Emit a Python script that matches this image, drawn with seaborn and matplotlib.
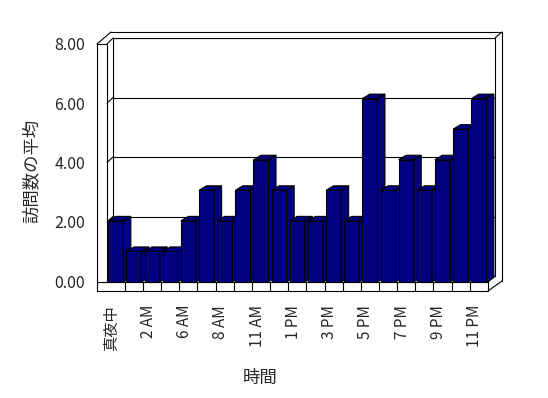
import numpy as np
import pandas as pd
import matplotlib
matplotlib.use("Agg")
import matplotlib.pyplot as plt
import seaborn as sns
from matplotlib.lines import Line2D
from matplotlib.patches import Polygon
from matplotlib.transforms import ScaledTranslation, IdentityTransform

# ---- data ----
hours = ["真夜中", "1 AM", "2 AM", "5 AM", "6 AM", "7 AM", "8 AM", "10 AM", "11 AM",
         "正午", "1 PM", "2 PM", "3 PM", "4 PM", "5 PM", "6 PM", "7 PM", "8 PM",
         "9 PM", "10 PM", "11 PM"]
visits = [2, 1, 1, 1, 2, 3, 2, 3, 4, 3, 2, 2, 3, 2, 6, 3, 4, 3, 4, 5, 6]
y_ticks = [0, 2, 4, 6, 8]
x_title = "時間"
y_title = "訪問数の平均"

sns.set_style("white")
plt.rcParams["font.family"] = ["Noto Sans CJK JP", "DejaVu Sans"]

NAVY = "#000080"
LW = 0.8
W, H = 548, 398
fig = plt.figure(figsize=(W / 100, H / 100), dpi=100)


def box(x0, y0, x1, y1):
    return [x0 / W, 1 - y1 / H, (x1 - x0) / W, (y1 - y0) / H]


def pline(xs, ys, **kw):
    fig.add_artist(Line2D([x / W for x in xs], [1 - y / H for y in ys],
                          transform=fig.transFigure, color="black", lw=LW, **kw))


# ---- back wall with gridlines ----
ax_wall = fig.add_axes(box(113, 38, 495, 276))
ax_wall.set_zorder(0)
ax_wall.set_ylim(0, 8)
ax_wall.set_xlim(0, 1)
ax_wall.set_yticks(y_ticks)
ax_wall.set_xticks([])
ax_wall.tick_params(left=False, labelleft=False)
ax_wall.grid(axis="y", color="black", lw=LW)
for s in ["left", "top", "right"]:
    ax_wall.spines[s].set_visible(True)
    ax_wall.spines[s].set_color("black")
    ax_wall.spines[s].set_linewidth(LW)
ax_wall.spines["bottom"].set_visible(False)

# ---- front plane (value axis labels) ----
ax_front = fig.add_axes(box(97, 44, 488, 281))
ax_front.set_zorder(1)
ax_front.patch.set_alpha(0)
ax_front.set_ylim(0, 8)
ax_front.set_yticks(y_ticks)
ax_front.set_yticklabels([f"{v:.2f}" for v in y_ticks])
ax_front.set_xticks([])
for s in ax_front.spines.values():
    s.set_visible(False)
ax_front.tick_params(axis="y", direction="in", length=7.2, width=LW, color="black",
                     pad=8.5, labelsize=11.5)

# ---- bars ----
cat_w = 18.15     # pixels per category
c0 = 115.8        # pixel centre of first category
bx0, bx1 = 106, 488
ax_bars = fig.add_axes(box(bx0, 37.5, bx1, 282))
ax_bars.set_zorder(2)
ax_bars.patch.set_alpha(0)
df = pd.DataFrame({x_title: hours, y_title: visits})
sns.barplot(data=df, x=x_title, y=y_title, order=hours, color=NAVY, saturation=1,
            width=0.83, edgecolor="black", linewidth=LW, errorbar=None, ax=ax_bars)
ax_bars.set_xlim((bx0 - c0) / cat_w, (bx1 - c0) / cat_w)
ax_bars.set_ylim(0, 8)
ax_bars.set_xlabel("")
ax_bars.set_ylabel("")
ax_bars.set_yticks([])

dx = 7.5 / cat_w
dy = 4.5 * 8 / (282 - 37.5)
for i, p in enumerate(ax_bars.patches):
    x0, w, h = p.get_x(), p.get_width(), p.get_height()
    x1 = x0 + w
    p.set_zorder(3 + 2 * i)
    p.set_clip_on(False)
    top = Polygon([(x0, h), (x1, h), (x1 + dx, h + dy), (x0 + dx, h + dy)],
                  closed=True, fc=NAVY, ec="black", lw=LW, zorder=4 + 2 * i, clip_on=False)
    side = Polygon([(x1, 0), (x1, h), (x1 + dx, h + dy), (x1 + dx, dy)],
                   closed=True, fc=NAVY, ec="black", lw=LW, zorder=4 + 2 * i, clip_on=False)
    ax_bars.add_patch(top)
    ax_bars.add_patch(side)

for s in ["left", "top", "right"]:
    ax_bars.spines[s].set_visible(False)
ax_bars.spines["bottom"].set_color("black")
ax_bars.spines["bottom"].set_linewidth(LW)

ax_bars.set_xticks(range(0, len(hours), 2))
ax_bars.set_xticklabels(hours[::2], rotation=90, fontsize=11)
ax_bars.set_xticks(np.arange(0.5, len(hours) - 1, 1), minor=True)
ax_bars.tick_params(axis="x", which="major", length=0, pad=16.5)
ax_bars.tick_params(axis="x", which="minor", bottom=True, direction="out",
                    length=6.5, width=LW, color="black")
shift = ScaledTranslation(-4 / 100, 0, fig.dpi_scale_trans)
for lab in ax_bars.get_xticklabels():
    lab.set_transform(lab.get_transform() + shift)

# ---- 3D box decorations (pixel layout) ----
pline([97, 97], [44, 291])
pline([107, 107], [44, 282])
pline([97, 107], [44, 44])
pline([97, 111], [44, 32])
pline([107, 113], [44, 38])
pline([111, 502], [32, 32])
pline([502, 495], [32, 38])
pline([502, 502], [32, 281])
pline([495, 488], [276, 282])
pline([502, 488], [281, 291])
pline([97, 488], [291, 291])
pline([97, 107], [282, 282])
pline([488, 488], [282, 291])

# connectors on the left wall from front ticks to back gridlines
for v in y_ticks[1:-1]:
    fx, fy = ax_front.transData.transform((0, v))
    bxp, byp = ax_wall.transData.transform((0, v))
    fig.add_artist(Line2D([fx + 10, bxp], [fy, byp], transform=IdentityTransform(),
                          color="black", lw=LW))

# ---- axis titles ----
fig.text(32 / W, 1 - 171 / H, y_title, rotation=90, ha="center", va="center", fontsize=12.5)
fig.text(260 / W, 1 - 378 / H, x_title, ha="center", va="center", fontsize=12.5)

fig.savefig("out.png", dpi=100)
